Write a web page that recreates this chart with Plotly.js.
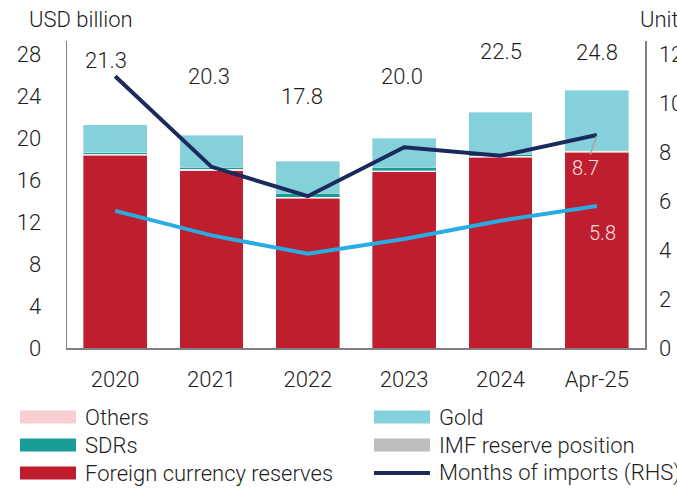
<!DOCTYPE html>
<html>
<head>
<meta charset="utf-8">
<script src="https://cdn.plot.ly/plotly-3.0.1.min.js"></script>
<style>html,body{margin:0;padding:0;background:#fff;}#chart{width:677px;height:496px;}</style>
</head>
<body>
<div id="chart"></div>
<script>
// ---- data ----
var categories = ["2020", "2021", "2022", "2023", "2024", "Apr-25"];
var foreignCurrency = [18.4, 16.9, 14.3, 16.8, 18.2, 18.7];
var others = [0.05, 0.1, 0.05, 0.05, 0.05, 0.05];
var imfReserve = [0.05, 0.05, 0.05, 0.05, 0.05, 0.05];
var sdrs = [0.15, 0.2, 0.35, 0.35, 0.2, 0.05];
var gold = [2.65, 3.05, 3.05, 2.75, 4.0, 5.75];
var totalLabels = [21.3, 20.3, 17.8, 20.0, 22.5, 24.8];
var monthsOfImports = [11.1, 7.4, 6.2, 8.2, 7.85, 8.7];
var secondLine = [5.6, 4.6, 3.85, 4.45, 5.2, 5.8];

// ---- layout constants ----
var W = 677, H = 496;
var M = {l: 67, r: 32, t: 41, b: 148};
var PW = W - M.l - M.r, PH = H - M.t - M.b;
function px(x) { return (x - M.l) / PW; }
function py(y) { return (H - M.b - y) / PH; }

var FONT = "Roboto, 'Liberation Sans', Arial, sans-serif";
var FS = 22;
var TXT = "#1e1e1e";
var colors = {
  fx: "#be1e2d", others: "#f8cfd2", imf: "#bdbdbd", sdr: "#1a9c98",
  gold: "#84d1dc", navy: "#1b2a5c", blue: "#29ace3"
};
function f(size, color) { return {family: FONT, size: size, color: color, weight: 300}; }

// vertical placement of total labels (left-axis units) and small horizontal nudges
var totalLabelY = [27.45, 25.9, 24.0, 25.9, 28.3, 28.2];
var totalLabelShift = [-9, -3, -6, -2, 0, 0];

function barTrace(name, vals, color) {
  return {
    type: "bar", name: name, x: categories, y: vals,
    marker: {color: color, line: {color: "rgba(255,255,255,0.6)", width: 0.6}},
    hoverinfo: "none", showlegend: false
  };
}

var data = [
  barTrace("Foreign currency reserves", foreignCurrency, colors.fx),
  barTrace("Others", others, colors.others),
  barTrace("IMF reserve position", imfReserve, colors.imf),
  barTrace("SDRs", sdrs, colors.sdr),
  barTrace("Gold", gold, colors.gold),
  {
    type: "scatter", mode: "lines", name: "Months of imports (RHS)",
    x: categories, y: monthsOfImports, yaxis: "y2",
    line: {color: colors.navy, width: 4}, showlegend: false, hoverinfo: "none"
  },
  {
    type: "scatter", mode: "lines", name: "Second measure (RHS)",
    x: categories, y: secondLine, yaxis: "y2",
    line: {color: colors.blue, width: 4}, showlegend: false, hoverinfo: "none"
  }
];

var annotations = [];
categories.forEach(function (c, i) {
  annotations.push({
    x: i, y: totalLabelY[i], xref: "x", yref: "y", xshift: totalLabelShift[i],
    text: totalLabels[i].toFixed(1), showarrow: false, font: f(FS, TXT),
    xanchor: "center", yanchor: "middle"
  });
});
var last = categories.length - 1;
annotations.push({
  x: last, y: monthsOfImports[last], xref: "x", yref: "y2",
  text: monthsOfImports[last].toFixed(1), showarrow: true, arrowhead: 0,
  arrowwidth: 1.5, arrowcolor: "#a5a5a5", ax: -11, ay: 33, standoff: 1,
  font: f(20, "#f9e0e2")
});
annotations.push({
  x: last, y: secondLine[last], xref: "x", yref: "y2",
  text: secondLine[last].toFixed(1), showarrow: false, xshift: 6, yshift: -27,
  font: f(20, "#f9e0e2")
});
// axis titles
annotations.push({
  x: px(27), y: py(20), xref: "paper", yref: "paper", xanchor: "left", yanchor: "middle",
  text: "USD billion", showarrow: false, font: f(FS, TXT)
});
annotations.push({
  x: px(638), y: py(20), xref: "paper", yref: "paper", xanchor: "left", yanchor: "middle",
  text: "Units", showarrow: false, font: f(FS, TXT)
});

// ---- custom legend (two columns) ----
var legendItems = [
  {name: "Others", color: colors.others, col: 0, row: 0, kind: "bar"},
  {name: "SDRs", color: colors.sdr, col: 0, row: 1, kind: "bar"},
  {name: "Foreign currency reserves", color: colors.fx, col: 0, row: 2, kind: "bar"},
  {name: "Gold", color: colors.gold, col: 1, row: 0, kind: "bar"},
  {name: "IMF reserve position", color: colors.imf, col: 1, row: 1, kind: "bar"},
  {name: "Months of imports (RHS)", color: colors.navy, col: 1, row: 2, kind: "line"}
];
var colSwatchX = [20, 374], swatchW = 56, textGap = 7;
var rowY = [417, 445, 473];
var shapes = [];
legendItems.forEach(function (it) {
  var x0 = colSwatchX[it.col], yc = rowY[it.row];
  if (it.kind === "bar") {
    shapes.push({type: "rect", xref: "paper", yref: "paper",
      x0: px(x0), x1: px(x0 + swatchW), y0: py(yc + 6.5), y1: py(yc - 6.5),
      fillcolor: it.color, line: {width: 0}});
  } else {
    shapes.push({type: "line", xref: "paper", yref: "paper",
      x0: px(x0), x1: px(x0 + swatchW), y0: py(yc), y1: py(yc),
      line: {color: it.color, width: 4}});
  }
  annotations.push({
    x: px(x0 + swatchW + textGap), y: py(yc), xref: "paper", yref: "paper",
    xanchor: "left", yanchor: "middle", text: it.name, showarrow: false,
    font: f(FS, TXT)
  });
});

var axisFont = f(FS, TXT);
var layout = {
  width: W, height: H, margin: M,
  paper_bgcolor: "#ffffff", plot_bgcolor: "#ffffff",
  barmode: "stack", bargap: 0.336, showlegend: false,
  font: {family: FONT, color: TXT, weight: 300},
  xaxis: {
    type: "category", range: [-0.5, 5.5], showgrid: false, zeroline: false,
    showline: true, linecolor: "#808080", linewidth: 1.5,
    ticks: "outside", ticklen: 11, tickcolor: "rgba(0,0,0,0)",
    tickfont: axisFont, fixedrange: true
  },
  yaxis: {
    range: [0, 29.3], tickvals: [0, 4, 8, 12, 16, 20, 24, 28],
    showgrid: false, zeroline: false, showline: true, linecolor: "#808080", linewidth: 1.5,
    ticks: "outside", ticklen: 20, tickcolor: "rgba(0,0,0,0)", tickfont: axisFont
  },
  yaxis2: {
    overlaying: "y", side: "right", range: [0, 12.54], tickvals: [0, 2, 4, 6, 8, 10, 12],
    showgrid: false, zeroline: false, showline: true, linecolor: "#808080", linewidth: 1.5,
    ticks: "outside", ticklen: 8, tickcolor: "rgba(0,0,0,0)", tickfont: axisFont
  },
  annotations: annotations,
  shapes: shapes
};

Plotly.newPlot("chart", data, layout, {displayModeBar: false, staticPlot: true});
</script>
</body>
</html>
